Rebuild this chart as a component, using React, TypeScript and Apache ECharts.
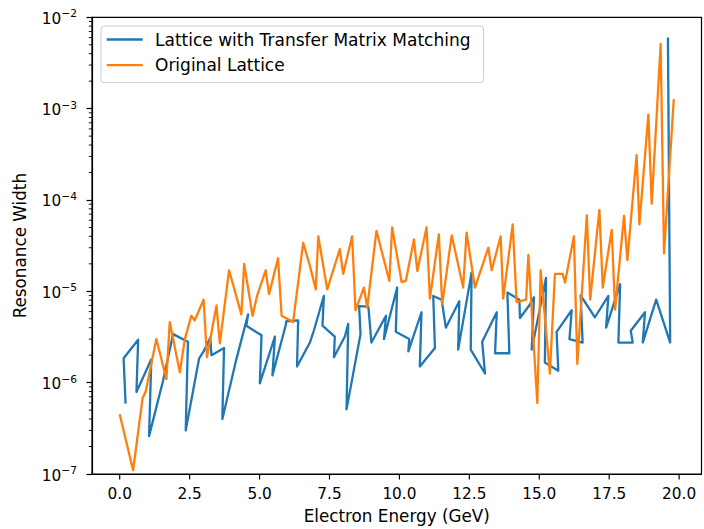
import React, { useEffect, useRef } from "react";
import * as echarts from "echarts";

const SERIES_NAMES = ["Lattice with Transfer Matrix Matching", "Original Lattice"];
const SERIES_COLORS = ["#1f77b4", "#ff7f0e"];

// Lattice with Transfer Matrix Matching (x = GeV, y = resonance width), in drawing order
const matchedEnergy = [
  0.21, 0.14, 0.66, 0.6, 1.13, 1.05, 1.55, 1.91, 2.44, 2.36,
  2.84, 3.0, 3.24, 3.28, 3.73, 3.67, 4.17, 4.59, 4.53, 5.07,
  5.01, 5.55, 5.46, 5.93, 5.96, 6.38, 6.34, 6.8, 6.94, 7.3,
  7.25, 7.69, 7.66, 8.05, 8.17, 8.11, 8.61, 8.56, 8.89, 9.0,
  9.52, 9.45, 9.92, 9.87, 10.35, 10.32, 10.79, 10.73, 11.27, 11.21,
  11.51, 11.66, 12.14, 12.1, 12.58, 12.55, 13.06, 12.96, 13.48, 13.42,
  13.93, 13.86, 14.29, 14.31, 14.64, 14.81, 14.73, 15.24, 15.2, 15.68,
  15.62, 16.16, 16.08, 16.55, 16.48, 16.99, 17.47, 17.39, 17.89, 17.83,
  18.34, 18.27, 18.78, 18.7, 19.18, 19.68, 19.6,
];
const matchedWidth = [
  5.9e-7, 1.85e-6, 2.95e-6, 7.9e-7, 1.8e-6, 2.6e-7, 1.05e-6, 3.4e-6, 2.8e-6, 3.0e-7,
  1.85e-6, 2.2e-6, 3.1e-6, 2.0e-6, 2.4e-6, 4.0e-7, 1.8e-6, 5.6e-6, 4.2e-6, 3.3e-6,
  9.8e-7, 3.2e-6, 1.2e-6, 4.2e-6, 4.7e-6, 4.8e-6, 1.5e-6, 2.75e-6, 3.7e-6, 8.9e-6,
  4.2e-6, 3.2e-6, 1.9e-6, 3.2e-6, 4.4e-6, 5.1e-7, 3.4e-6, 6.9e-6, 6.8e-6, 2.75e-6,
  5.4e-6, 3.0e-6, 1.1e-5, 3.6e-6, 3.0e-6, 2.2e-6, 5.9e-6, 1.5e-6, 2.4e-6, 8.9e-6,
  8.1e-6, 4.0e-6, 7.8e-6, 2.3e-6, 1.6e-5, 2.3e-6, 1.26e-6, 2.8e-6, 5.9e-6, 2.1e-6,
  2.1e-6, 9.7e-6, 8.1e-6, 5.1e-6, 7.0e-6, 8.6e-6, 2.3e-6, 1.4e-5, 1.66e-6, 1.35e-6,
  3.6e-6, 6.2e-6, 3.0e-6, 2.75e-6, 9.0e-6, 5.2e-6, 8.9e-6, 4.0e-6, 1.2e-5, 2.75e-6,
  2.75e-6, 3.7e-6, 5.9e-6, 2.75e-6, 8.1e-6, 2.75e-6, 6.0e-3,
];

// Original Lattice
const originalEnergy = [
  0.0, 0.48, 0.82, 0.93, 1.31, 1.67, 1.79, 2.15, 2.33, 2.56,
  2.68, 3.0, 3.12, 3.46, 3.58, 3.91, 4.35, 4.45, 4.75, 4.91,
  5.22, 5.34, 5.66, 5.79, 6.2, 6.56, 6.8, 7.01, 7.1, 7.42,
  7.87, 7.99, 8.31, 8.43, 8.73, 8.85, 9.18, 9.64, 9.74, 10.08,
  10.23, 10.52, 10.64, 10.97, 11.09, 11.41, 11.53, 11.87, 12.28, 12.4,
  12.7, 13.18, 13.3, 13.62, 13.71, 14.05, 14.19, 14.53, 14.61, 14.93,
  15.05, 15.38, 15.56, 15.84, 15.92, 16.24, 16.36, 16.7, 16.82, 17.15,
  17.27, 17.59, 17.71, 18.03, 18.15, 18.48, 18.58, 18.9, 19.02, 19.34,
  19.46, 19.81,
];
const originalWidth = [
  4.5e-7, 1.1e-7, 6.8e-7, 8.0e-7, 3.0e-6, 1.1e-6, 4.6e-6, 1.3e-6, 3.0e-6, 5.4e-6,
  4.8e-6, 8.1e-6, 1.9e-6, 7.0e-6, 2.7e-6, 1.7e-5, 5.6e-6, 2.0e-5, 5.4e-6, 8.9e-6,
  1.7e-5, 9.3e-6, 2.3e-5, 5.4e-6, 4.6e-6, 3.4e-5, 1.9e-5, 1.05e-5, 4.0e-5, 1.05e-5,
  2.9e-5, 1.55e-5, 4.0e-5, 6.2e-6, 1.1e-5, 6.6e-6, 4.6e-5, 1.3e-5, 5.0e-5, 1.26e-5,
  1.3e-5, 3.7e-5, 1.67e-5, 5.0e-5, 8.3e-6, 4.2e-5, 7.2e-6, 4.1e-5, 1.1e-5, 4.4e-5,
  1.1e-5, 3.0e-5, 1.7e-5, 4.0e-5, 8.3e-6, 5.4e-5, 7.6e-6, 8.1e-6, 2.5e-5, 6.0e-7,
  1.7e-5, 1.26e-6, 1.55e-5, 1.55e-5, 1.25e-5, 4.0e-5, 1.6e-6, 6.8e-5, 8.1e-6, 7.8e-5,
  1.1e-5, 4.7e-5, 6.3e-6, 6.7e-5, 2.2e-5, 3.1e-4, 5.4e-5, 8.6e-4, 9.1e-5, 5.1e-3,
  2.6e-5, 1.27e-3,
];

// Axis ranges and ticks
const X_MIN = -0.99;
const X_MAX = 20.8;
const X_TICK_STEP = 2.5;
const X_TICKS = [0, 2.5, 5, 7.5, 10, 12.5, 15, 17.5, 20];
const Y_MIN = 1e-7;
const Y_MAX = 1e-2;
const Y_MINOR_MULTIPLIERS = [2, 3, 4, 5, 6, 7, 8, 9];
const Y_MINOR_DECADES = [1e-7, 1e-6, 1e-5, 1e-4, 1e-3];

const FONT = "DejaVu Sans";
const TICK_FONT = 15.3;
const LABEL_FONT = 16.8;
const MAJOR_TICK_LEN = 5.5;
const MINOR_TICK_LEN = 3.2;

export default function App() {
  const ref = useRef<HTMLDivElement>(null);

  useEffect(() => {
    if (!ref.current) return;
    const chart = echarts.init(ref.current, undefined, { renderer: "svg" });

    const matched = matchedEnergy.map((x, i) => [x, matchedWidth[i]]);
    const original = originalEnergy.map((x, i) => [x, originalWidth[i]]);

    const axisLine = { show: true, onZero: false, lineStyle: { color: "#000", width: 1.2 } };

    chart.setOption({
      animation: false,
      backgroundColor: "#ffffff",
      textStyle: { fontFamily: FONT },
      grid: {
        left: 92,
        top: 17.3,
        width: 609.5,
        height: 458,
        show: true,
        borderColor: "#000",
        borderWidth: 1.2,
        backgroundColor: "transparent",
      },
      legend: {
        data: SERIES_NAMES,
        orient: "vertical",
        left: 101,
        top: 26,
        padding: [3.5, 13, 7.5, 5.7],
        itemGap: 5.7,
        itemWidth: 36,
        itemHeight: 2.3,
        icon: "rect",
        borderColor: "#cccccc",
        borderWidth: 1,
        borderRadius: 3,
        backgroundColor: "rgba(255,255,255,0.8)",
        textStyle: {
          fontFamily: FONT,
          fontSize: 17,
          color: "#000",
          padding: [0, 0, 0, 7.3],
          lineHeight: 20,
        },
      },
      xAxis: {
        type: "value",
        position: "bottom",
        min: X_MIN,
        max: X_MAX,
        minInterval: X_TICK_STEP,
        maxInterval: X_TICK_STEP,
        splitNumber: 9,
        name: "Electron Energy (GeV)",
        nameLocation: "middle",
        nameGap: 33,
        nameTextStyle: { fontFamily: FONT, fontSize: LABEL_FONT, color: "#000" },
        axisLine,
        axisTick: { show: false },
        axisLabel: {
          show: true,
          showMinLabel: false,
          showMaxLabel: false,
          margin: 12,
          fontFamily: FONT,
          fontSize: TICK_FONT,
          color: "#000",
          formatter: (v: number) => v.toFixed(1),
        },
        splitLine: { show: false },
      },
      yAxis: {
        type: "log",
        position: "left",
        logBase: 10,
        min: Y_MIN,
        max: Y_MAX,
        splitNumber: 5,
        name: "Resonance Width",
        nameLocation: "middle",
        nameGap: 64,
        nameTextStyle: { fontFamily: FONT, fontSize: LABEL_FONT, color: "#000" },
        axisLine,
        axisTick: {
          show: true,
          inside: false,
          length: MAJOR_TICK_LEN,
          lineStyle: { color: "#000", width: 1.2 },
        },
        axisLabel: {
          show: true,
          margin: 15,
          formatter: (v: number) => {
            const e = Math.round(Math.log10(v));
            return `{b|10}{s|\u2212${-e}}`;
          },
          rich: {
            b: { fontFamily: FONT, fontSize: TICK_FONT, color: "#000", verticalAlign: "bottom", padding: [3, 0, 0, 0] },
            s: { fontFamily: FONT, fontSize: 10.7, color: "#000", verticalAlign: "top" },
          },
        },
        splitLine: { show: false },
      },
      series: [
        {
          name: SERIES_NAMES[0],
          type: "line",
          data: matched,
          symbol: "none",
          color: SERIES_COLORS[0],
          lineStyle: { width: 2.3, color: SERIES_COLORS[0], join: "round" },
          z: 3,
        },
        {
          name: SERIES_NAMES[1],
          type: "line",
          data: original,
          symbol: "none",
          color: SERIES_COLORS[1],
          lineStyle: { width: 2.3, color: SERIES_COLORS[1], join: "round" },
          z: 4,
        },
      ],
    });

    // Tick marks placed through the axes' own scales
    const leftX = chart.convertToPixel({ xAxisIndex: 0 }, X_MIN) as number;
    const bottomY = chart.convertToPixel({ yAxisIndex: 0 }, Y_MIN) as number;
    const tickLines: any[] = [];
    Y_MINOR_DECADES.forEach((d) =>
      Y_MINOR_MULTIPLIERS.forEach((m) => {
        const py = chart.convertToPixel({ yAxisIndex: 0 }, m * d) as number;
        tickLines.push({
          type: "line",
          silent: true,
          z: 50,
          shape: { x1: leftX - MINOR_TICK_LEN, y1: py, x2: leftX, y2: py },
          style: { stroke: "#000", lineWidth: 0.9 },
        });
      })
    );
    X_TICKS.forEach((v) => {
      const px = chart.convertToPixel({ xAxisIndex: 0 }, v) as number;
      tickLines.push({
        type: "line",
        silent: true,
        z: 50,
        shape: { x1: px, y1: bottomY, x2: px, y2: bottomY + MAJOR_TICK_LEN },
        style: { stroke: "#000", lineWidth: 1.2 },
      });
    });
    chart.setOption({ graphic: tickLines });

    return () => chart.dispose();
  }, []);

  return (
    <div
      ref={ref}
      style={{ position: "fixed", left: 0, top: 0, width: 704, height: 529, background: "#fff" }}
    />
  );
}
